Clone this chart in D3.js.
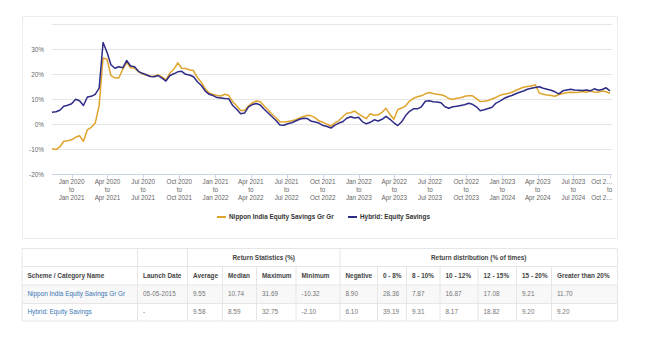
<!DOCTYPE html>
<html>
<head>
<meta charset="utf-8">
<script src="https://cdn.jsdelivr.net/npm/d3@7/dist/d3.min.js"></script>
<style>
  html, body { margin: 0; padding: 0; background: #fff; }
  svg { display: block; font-family: "Liberation Sans", Arial, sans-serif; }
</style>
</head>
<body>
<svg id="chart" width="645" height="350"></svg>
<script>
// Rolling 1-year returns: Nippon India Equity Savings vs category average

// --- data ---
const periodStart = new Date(2019, 10, 12);   // first rolling period start
const stepDays = 10;                          // one value every 10 days

const nipponValues = [
  -9.8, -10.1, -9.0, -6.8, -6.6, -6.2, -5.2, -4.6, -6.8, -2.2,
  -1.2, 0.5, 7.5, 26.5, 26.0, 19.5, 18.6, 18.5, 22.0, 24.8,
  22.6, 22.5, 21.0, 20.2, 19.6, 19.3, 19.2, 19.8, 19.0, 17.8,
  20.5, 22.0, 24.6, 22.4, 22.3, 21.7, 21.5, 18.7, 16.8, 14.2,
  12.5, 11.9, 11.5, 11.3, 12.0, 11.5, 9.0, 7.4, 5.5, 5.5,
  7.3, 8.6, 9.3, 9.0, 7.3, 5.7, 4.0, 2.6, 1.0, 0.9,
  1.1, 1.4, 1.8, 2.5, 3.1, 3.6, 3.4, 2.6, 1.3, 0.8,
  0.0, -0.7, 0.6, 1.5, 3.0, 4.4, 4.6, 5.3, 4.2, 3.2,
  2.3, 4.2, 3.6, 3.8, 4.8, 6.4, 4.0, 2.0, 5.9, 6.5,
  7.4, 9.3, 10.4, 11.0, 11.4, 12.2, 12.7, 12.3, 12.0, 11.8,
  11.3, 10.3, 9.9, 10.4, 10.6, 11.2, 11.4, 11.4, 10.3, 9.1,
  9.2, 9.5, 10.1, 10.8, 11.6, 12.0, 12.3, 12.8, 13.5, 14.2,
  14.8, 15.1, 15.3, 15.8, 12.5, 12.0, 11.7, 11.5, 11.2, 11.9,
  12.3, 12.6, 12.8, 12.7, 12.8, 13.1, 12.8, 13.3, 12.9, 12.8,
  13.3, 13.0, 12.4
];

const hybridValues = [
  4.8, 5.0, 5.6, 7.2, 7.6, 8.2, 10.0, 9.4, 7.5, 10.9,
  11.2, 12.0, 14.5, 32.7, 28.8, 23.8, 22.4, 23.0, 22.6, 25.5,
  23.3, 23.0, 21.2, 20.4, 19.8, 19.1, 19.0, 19.5, 18.5, 17.3,
  19.5, 20.2, 21.0, 21.2, 20.0, 19.7, 19.0, 17.0, 15.5, 13.3,
  12.0, 11.5, 10.7, 10.5, 10.3, 10.2, 7.5, 6.0, 4.2, 4.5,
  7.0, 7.9, 8.3, 7.7, 6.0, 4.5, 3.0, 1.5, -0.3, -0.4,
  0.2, 0.6, 1.3, 2.0, 2.4, 2.3, 1.2, 0.9, 0.4, -0.5,
  -0.9, -1.5, -0.3, 0.5, 1.0, 2.4, 3.0, 2.5, 2.8, 1.0,
  0.2, 0.8, 1.8, 1.3, 2.0, 3.2, 2.0, 0.6, -0.5, 1.0,
  3.5, 5.2, 6.2, 6.2, 7.0, 9.2, 9.4, 9.0, 8.9, 8.6,
  7.0, 6.4, 7.0, 7.2, 7.5, 7.8, 8.4, 8.0, 7.0, 5.4,
  5.8, 6.3, 6.8, 8.5, 9.3, 10.3, 11.0, 11.5, 12.2, 12.8,
  13.3, 14.0, 14.4, 14.7, 15.0, 14.4, 14.0, 13.6, 13.0, 12.2,
  13.4, 13.7, 14.0, 13.7, 13.6, 13.5, 13.7, 13.4, 14.2, 13.6,
  13.9, 14.6, 13.4
];

const seriesNames = ['Nippon India Equity Savings Gr Gr', 'Hybrid: Equity Savings'];
const yTicks = [-20, -10, 0, 10, 20, 30, 40];
const quarterStarts = [
  '2020-01', '2020-04', '2020-07', '2020-10',
  '2021-01', '2021-04', '2021-07', '2021-10',
  '2022-01', '2022-04', '2022-07', '2022-10',
  '2023-01', '2023-04', '2023-07', '2023-10'
];

// table
const statsHeaders = ['Average', 'Median', 'Maximum', 'Minimum'];
const distHeaders = ['Negative', '0 - 8%', '8 - 10%', '10 - 12%', '12 - 15%', '15 - 20%', 'Greater than 20%'];
const launchDates = ['05-05-2015', '-'];
const statsValues = [
  ['9.55', '10.74', '31.69', '-10.32'],
  ['9.58', '8.59', '32.75', '-2.10']
];
const distValues = [
  ['8.90', '28.36', '7.87', '16.87', '17.08', '9.21', '11.70'],
  ['6.10', '39.19', '9.31', '8.17', '18.82', '9.20', '9.20']
];

// --- setup ---
const COLORS = { nippon: '#e0a42c', hybrid: '#2e2c87' };
const PLOT = { left: 52, right: 612, top: 24.3, bottom: 174.3 };
const svg = d3.select('#chart');

const dates = nipponValues.map((_, i) => d3.timeDay.offset(periodStart, i * stepDays));
const x = d3.scaleTime()
  .domain([dates[0], dates[dates.length - 1]])
  .range([PLOT.left, 610]);
const y = d3.scaleLinear().domain([-20, 40]).range([PLOT.bottom, PLOT.top]);

// chart frame
svg.append('rect')
  .attr('x', 22.5).attr('y', 16.5).attr('width', 595).attr('height', 222)
  .attr('fill', '#fff').attr('stroke', '#ececec');

// grid
svg.append('g')
  .selectAll('line')
  .data(yTicks.filter(t => t !== -20))
  .join('line')
  .attr('x1', PLOT.left).attr('x2', PLOT.right)
  .attr('y1', d => Math.round(y(d)) + 0.5).attr('y2', d => Math.round(y(d)) + 0.5)
  .attr('stroke', '#e6e6e6');

// y labels (top one hidden like the original)
svg.append('g')
  .selectAll('text')
  .data(yTicks.filter(t => t < 40))
  .join('text')
  .attr('x', 44).attr('y', d => y(d) + 2.2)
  .attr('text-anchor', 'end')
  .style('font-size', '6.4px').style('fill', '#666')
  .text(d => d + '%');

// x axis
const tickDates = quarterStarts.map(s => d3.timeParse('%Y-%m')(s));
const xAxis = svg.append('g').attr('transform', `translate(0,${Math.round(PLOT.bottom) + 0.5})`);
xAxis.append('line')
  .attr('x1', PLOT.left).attr('x2', PLOT.right)
  .attr('stroke', '#ccd6eb');
xAxis.selectAll('line.tick')
  .data(tickDates)
  .join('line')
  .attr('class', 'tick')
  .attr('x1', d => Math.round(x(d)) + 0.5).attr('x2', d => Math.round(x(d)) + 0.5)
  .attr('y1', 0).attr('y2', 4)
  .attr('stroke', '#ccd6eb');

const fmt = d3.timeFormat('%b %Y');
const labels = xAxis.selectAll('g.lbl')
  .data(tickDates)
  .join('g')
  .attr('class', 'lbl')
  .attr('transform', d => `translate(${x(d)},0)`);

labels.each(function(d, i) {
  const g = d3.select(this);
  const last = i === tickDates.length - 1;
  const lines = last
    ? ['Oct 2…', 'to', 'Oct 2…']
    : [fmt(d), 'to', fmt(d3.timeYear.offset(d, 1))];
  lines.forEach((t, k) => {
    g.append('text')
      .attr('x', last && k !== 1 ? 3 : 0)
      .attr('y', 9.8 + k * 8)
      .attr('text-anchor', last && k !== 1 ? 'end' : 'middle')
      .style('font-size', '6.3px').style('fill', '#666')
      .text(t);
  });
});

// lines
const line = d3.line()
  .x((d, i) => x(dates[i]))
  .y(d => y(d));

svg.append('path')
  .datum(nipponValues)
  .attr('fill', 'none')
  .attr('stroke', COLORS.nippon)
  .attr('stroke-width', 1.5)
  .attr('stroke-linejoin', 'round')
  .attr('d', line);

svg.append('path')
  .datum(hybridValues)
  .attr('fill', 'none')
  .attr('stroke', COLORS.hybrid)
  .attr('stroke-width', 1.5)
  .attr('stroke-linejoin', 'round')
  .attr('d', line);

// legend
const legendItems = [
  { name: seriesNames[0], color: COLORS.nippon, x: 217 },
  { name: seriesNames[1], color: COLORS.hybrid, x: 348 }
];
const legend = svg.append('g').attr('transform', 'translate(0,217)');
legendItems.forEach(item => {
  legend.append('line')
    .attr('x1', item.x).attr('x2', item.x + 9)
    .attr('stroke', item.color).attr('stroke-width', 2);
  legend.append('text')
    .attr('x', item.x + 12).attr('y', 2.2)
    .style('font-size', '6.4px').style('font-weight', 'bold').style('fill', '#333')
    .text(item.name);
});

// --- table ---
const colX = [22, 137.5, 187.5, 222.5, 256.5, 296, 340, 377.5, 406.5, 440, 478, 516.5, 551.5, 617.5];
const rowY = [248.5, 266.5, 285, 303.5, 321];
const table = svg.append('g');
const border = '#e6e6e6';

// striped first data row
table.append('rect')
  .attr('x', colX[0]).attr('y', rowY[2])
  .attr('width', colX[13] - colX[0]).attr('height', rowY[3] - rowY[2])
  .attr('fill', '#f8f8f8');

// horizontal rules
table.selectAll('line.h')
  .data(rowY)
  .join('line')
  .attr('x1', colX[0]).attr('x2', colX[13])
  .attr('y1', d => d).attr('y2', d => d)
  .attr('stroke', border);

// vertical rules: some only span the lower header row and data
colX.forEach((cx, i) => {
  const fullHeight = [0, 1, 2, 6, 13].includes(i);
  table.append('line')
    .attr('x1', cx).attr('x2', cx)
    .attr('y1', fullHeight ? rowY[0] : rowY[1]).attr('y2', rowY[4])
    .attr('stroke', border);
});

function cellText(txt, col, row, opts = {}) {
  table.append('text')
    .attr('x', colX[col] + 5.5)
    .attr('y', (rowY[row] + rowY[row + 1]) / 2 + 2.2)
    .style('font-size', '6.4px')
    .style('font-weight', opts.bold ? 'bold' : 'normal')
    .style('fill', opts.color || '#777')
    .text(txt);
}

// group headers
[['Return Statistics (%)', 2, 6], ['Return distribution (% of times)', 6, 13]].forEach(([t, a, b]) => {
  table.append('text')
    .attr('x', (colX[a] + colX[b]) / 2)
    .attr('y', (rowY[0] + rowY[1]) / 2 + 2.2)
    .attr('text-anchor', 'middle')
    .style('font-size', '6.4px').style('font-weight', 'bold').style('fill', '#444')
    .text(t);
});

const subHeaders = ['Scheme / Category Name', 'Launch Date', ...statsHeaders, ...distHeaders];
subHeaders.forEach((t, i) => cellText(t, i, 1, { bold: true, color: '#444' }));

seriesNames.forEach((name, r) => {
  const row = r + 2;
  cellText(name, 0, row, { color: '#3b76b5' });
  cellText(launchDates[r], 1, row);
  statsValues[r].forEach((v, j) => cellText(v, 2 + j, row));
  distValues[r].forEach((v, j) => cellText(v, 6 + j, row));
});
</script>
</body>
</html>
